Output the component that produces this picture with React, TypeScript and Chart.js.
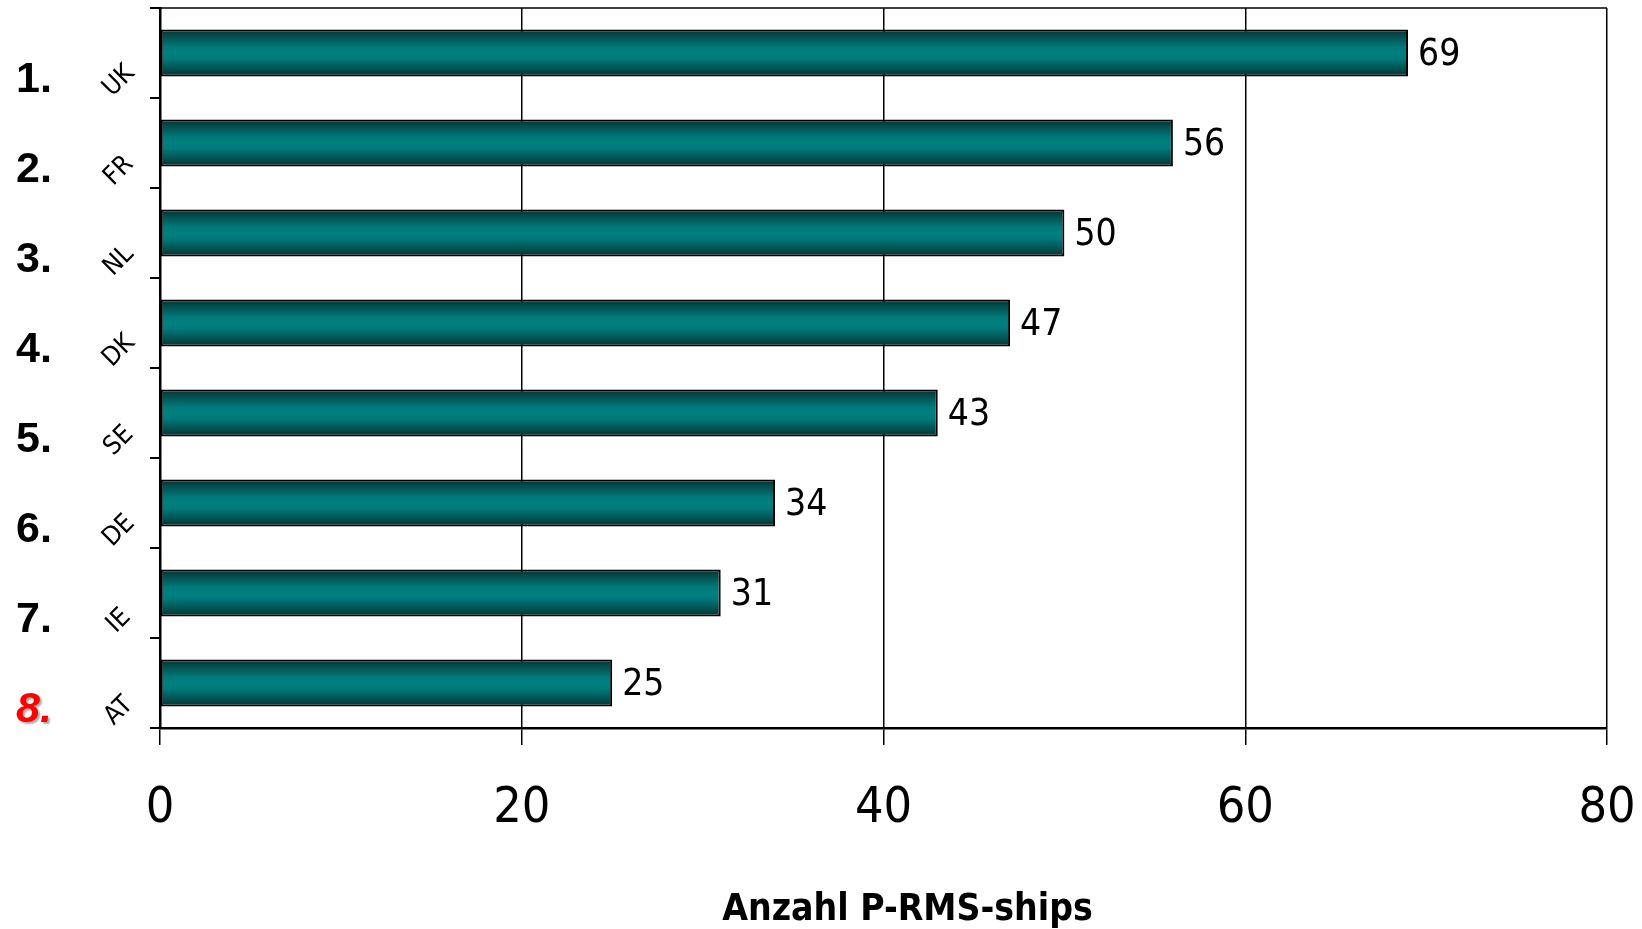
import React, { useEffect, useRef } from "react";
import { Chart, registerables } from "chart.js";

Chart.register(...registerables);

// Countries ranked by number of P-RMS ships
const countries = ["UK", "FR", "NL", "DK", "SE", "DE", "IE", "AT"];
const ranks = ["1.", "2.", "3.", "4.", "5.", "6.", "7.", "8."];
const shipCounts = [69, 56, 50, 47, 43, 34, 31, 25];
const xTicks = [0, 20, 40, 60, 80];
const axisTitle = "Anzahl P-RMS-ships";

const NUM_FONT = '"DejaVu Sans Condensed", "Liberation Sans Narrow", "DejaVu Sans", sans-serif';
const RANK_FONT = '"Liberation Sans", Arial, sans-serif';
const BAR_PCT = 0.52;

// Frame line along the top of the plot area
const frameTop = {
  id: "frameTop",
  afterDatasetsDraw(chart: any) {
    const { ctx, chartArea } = chart;
    ctx.save();
    ctx.strokeStyle = "#000";
    ctx.lineWidth = 1.5;
    ctx.beginPath();
    ctx.moveTo(chartArea.left, chartArea.top);
    ctx.lineTo(chartArea.right, chartArea.top);
    ctx.stroke();
    ctx.restore();
  },
};

// Numbers printed at the end of each bar
const valueLabels = {
  id: "valueLabels",
  afterDatasetsDraw(chart: any) {
    const { ctx } = chart;
    const meta = chart.getDatasetMeta(0);
    ctx.save();
    ctx.fillStyle = "#000";
    ctx.font = `37px ${NUM_FONT}`;
    ctx.textAlign = "left";
    ctx.textBaseline = "middle";
    meta.data.forEach((bar: any, i: number) => {
      ctx.fillText(String(shipCounts[i]), bar.x + 10, bar.y + 2);
    });
    ctx.restore();
  },
};

// Axis title under the tick labels
const bottomTitle = {
  id: "bottomTitle",
  afterDraw(chart: any) {
    const { ctx, chartArea } = chart;
    ctx.save();
    ctx.fillStyle = "#000";
    ctx.font = `bold 37px ${NUM_FONT}`;
    ctx.textAlign = "center";
    ctx.textBaseline = "middle";
    ctx.fillText(axisTitle, (chartArea.left + chartArea.right) / 2 + 24, chart.height - 19);
    ctx.restore();
  },
};

// Rank numbers and slanted country codes left of the axis
const categoryLabels = {
  id: "categoryLabels",
  afterDraw(chart: any) {
    const { ctx } = chart;
    const yScale = chart.scales.y;
    ctx.save();
    countries.forEach((code, i) => {
      const c = yScale.getPixelForValue(i);
      // country code, rotated
      ctx.save();
      ctx.translate(119, c + 28);
      ctx.rotate(-Math.PI / 4);
      ctx.fillStyle = "#000";
      ctx.font = `26px ${NUM_FONT}`;
      ctx.textAlign = "center";
      ctx.textBaseline = "middle";
      ctx.fillText(code, 0, 0);
      ctx.restore();

      // rank number
      ctx.save();
      const last = i === ranks.length - 1;
      ctx.textAlign = "left";
      ctx.textBaseline = "middle";
      if (last) {
        ctx.font = `italic bold 43px ${RANK_FONT}`;
        ctx.shadowColor = "rgba(0,0,0,0.35)";
        ctx.shadowOffsetX = 2;
        ctx.shadowOffsetY = 2;
        ctx.shadowBlur = 2;
        ctx.fillStyle = "#ff0000";
      } else {
        ctx.font = `bold 43px ${RANK_FONT}`;
        ctx.fillStyle = "#000";
      }
      ctx.fillText(ranks[i], 16, c + 27);
      ctx.restore();
    });
    ctx.restore();
  },
};

export default function App() {
  const canvasRef = useRef<HTMLCanvasElement | null>(null);

  useEffect(() => {
    if (!canvasRef.current) return;

    const barFill = (context: any) => {
      const chart = context.chart;
      const yScale = chart.scales?.y;
      const area = chart.chartArea;
      if (!yScale || !area || context.dataIndex === undefined) return "#008080";
      const c = yScale.getPixelForValue(context.dataIndex);
      const half = ((area.bottom - area.top) / countries.length) * BAR_PCT / 2;
      const g = chart.ctx.createLinearGradient(0, c - half, 0, c + half);
      g.addColorStop(0, "#053232");
      g.addColorStop(0.38, "#007a7a");
      g.addColorStop(0.5, "#008080");
      g.addColorStop(0.62, "#007a7a");
      g.addColorStop(1, "#053232");
      return g;
    };

    const chart = new Chart(canvasRef.current, {
      type: "bar",
      data: {
        labels: countries,
        datasets: [
          {
            data: shipCounts,
            backgroundColor: barFill,
            borderColor: "#000",
            borderWidth: 2,
            borderSkipped: false,
            barPercentage: BAR_PCT,
            categoryPercentage: 1,
          },
        ],
      },
      plugins: [frameTop, valueLabels, categoryLabels, bottomTitle],
      options: {
        indexAxis: "y",
        responsive: false,
        animation: false,
        events: [],
        layout: { padding: { top: 8, right: 35, left: 0, bottom: 0 } },
        plugins: {
          legend: { display: false },
          tooltip: { enabled: false },
          title: { display: false },
        },
        scales: {
          x: {
            type: "linear",
            min: xTicks[0],
            max: xTicks[xTicks.length - 1],
            afterBuildTicks: (scale: any) => {
              scale.ticks = xTicks.map((v) => ({ value: v }));
            },
            afterFit: (scale: any) => {
              scale.height = 201;
              scale.paddingLeft = 0;
              scale.paddingRight = 0;
            },
            ticks: {
              color: "#000",
              padding: 34,
              font: { family: NUM_FONT, size: 50 },
            },
            grid: {
              color: "#000",
              lineWidth: 1.5,
              tickLength: 17,
              drawTicks: true,
            },
            border: { color: "#000", width: 2.5 },
          },
          y: {
            type: "category",
            afterFit: (scale: any) => {
              scale.width = 160;
            },
            ticks: { display: false },
            grid: {
              color: "#000",
              lineWidth: 2,
              drawOnChartArea: false,
              tickLength: 10,
              offset: true,
            },
            border: { color: "#000", width: 2.5 },
          },
        },
      },
    } as any);

    return () => chart.destroy();
  }, []);

  return (
    <div style={{ position: "absolute", left: 0, top: 0, width: 1642, height: 929, background: "#fff" }}>
      <canvas ref={canvasRef} width={1642} height={929} />
    </div>
  );
}
